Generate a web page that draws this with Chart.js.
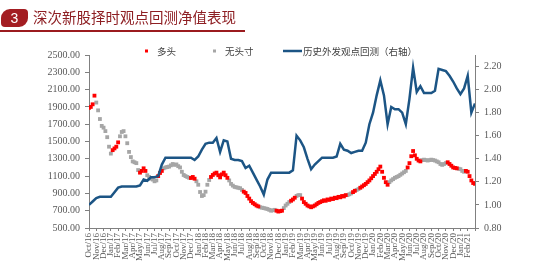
<!DOCTYPE html>
<html>
<head>
<meta charset="utf-8">
<script src="https://cdn.jsdelivr.net/npm/chart.js@4.4.1/dist/chart.umd.min.js"></script>
<style>
  html, body { margin: 0; padding: 0; background: #fff; }
  #wrap { position: relative; width: 550px; height: 262px; overflow: hidden; }
  #badge { position: absolute; left: 1px; top: 9px; width: 27px; height: 18px; background: #a31d22;
           border-radius: 9px 4px 9px 4px; color: #fff; font: 14px 'Liberation Sans', sans-serif;
           text-align: center; line-height: 18px; }
  #title { position: absolute; left: 33px; top: 7px; font: 14.5px 'Noto Sans CJK SC', sans-serif;
           color: #8e1f23; line-height: 20px; white-space: nowrap; }
  #rule { position: absolute; left: 0; top: 30px; width: 245px; height: 2px; background: #9b1b1f; }
  canvas { position: absolute; left: 0; top: 0; }
</style>
</head>
<body>
<div id="wrap">
  <canvas id="navChart" width="550" height="262"></canvas>
  <div id="badge">3</div>
  <div id="title">深次新股择时观点回测净值表现</div>
  <div id="rule"></div>
</div>
<script>
// month labels, Oct/16 .. Feb/21
const monthNames = ['Jan', 'Feb', 'Mar', 'Apr', 'May', 'Jun', 'Jul', 'Aug', 'Sep', 'Oct', 'Nov', 'Dec'];
const monthLabels = [];
for (let y = 16; y <= 21; y++) {
  for (let m = 0; m < 12; m++) {
    if (y === 16 && m < 9) continue;
    if (y === 21 && m > 1) break;
    monthLabels.push(monthNames[m] + '/' + y);
  }
}

const leftTicks = [500, 700, 900, 1100, 1300, 1500, 1700, 1900, 2100, 2300, 2500];
const rightTicks = [0.8, 1.0, 1.2, 1.4, 1.6, 1.8, 2.0, 2.2];

// index level, four readings per month (one row = two months)
const price = [
  1890, 1900, 1930, 2030, 1950, 1860, 1760, 1680,
  1660, 1620, 1550, 1440, 1360, 1400, 1420, 1440,
  1490, 1560, 1610, 1620, 1560, 1480, 1380, 1320,
  1270, 1260, 1250, 1170, 1140, 1160, 1190, 1160,
  1110, 1090, 1070, 1060, 1040, 1050, 1100, 1136,
  1160, 1190, 1200, 1205, 1210, 1225, 1240, 1230,
  1235, 1215, 1200, 1150, 1113, 1100, 1090, 1080,
  1078, 1090, 1070, 1040, 1000, 916, 870, 880,
  920, 1000, 1055, 1090, 1113, 1130, 1140, 1110,
  1085, 1120, 1140, 1110, 1080, 1050, 1010, 990,
  975, 970, 965, 960, 940, 920, 905, 870,
  840, 810, 790, 775, 760, 750, 740, 735,
  730, 725, 720, 710, 700, 705, 710, 700,
  690, 695, 700, 730, 760, 780, 800, 815,
  830, 850, 870, 880, 880, 840, 800, 780,
  760, 750, 740, 750, 760, 775, 790, 800,
  810, 820, 815, 830, 825, 840, 835, 850,
  845, 860, 855, 870, 865, 880, 880, 890,
  900, 915, 930, 940, 950, 965, 980, 995,
  1010, 1030, 1050, 1075, 1100, 1125, 1150, 1180,
  1210, 1150, 1080, 1030, 1000, 1030, 1050, 1065,
  1080, 1090, 1100, 1115, 1130, 1145, 1160, 1200,
  1250, 1330, 1390, 1340, 1300, 1280, 1270, 1285,
  1290, 1285, 1280, 1285, 1290, 1285, 1280, 1270,
  1260, 1240, 1230, 1240, 1250, 1260, 1240, 1220,
  1200, 1195, 1190, 1185, 1180, 1160, 1150, 1160,
  1150, 1100, 1050, 1020, 1010
];
// 1 = 多头, 0 = 无头寸
const position = [
  1, 1, 1, 1, 0, 0, 0, 0,
  0, 0, 0, 0, 0, 1, 1, 1,
  1, 0, 0, 0, 0, 0, 0, 0,
  0, 0, 0, 0, 1, 1, 1, 1,
  0, 0, 0, 0, 0, 0, 1, 1,
  1, 0, 0, 0, 0, 0, 0, 0,
  0, 0, 0, 0, 0, 0, 0, 0,
  1, 1, 1, 0, 0, 0, 0, 0,
  0, 0, 0, 1, 1, 1, 1, 1,
  1, 1, 1, 1, 1, 0, 0, 0,
  0, 0, 0, 0, 0, 1, 1, 1,
  1, 1, 1, 1, 1, 1, 0, 0,
  0, 0, 0, 0, 0, 0, 0, 1,
  1, 1, 1, 0, 0, 0, 0, 1,
  1, 1, 0, 0, 0, 1, 1, 1,
  1, 1, 1, 1, 1, 1, 1, 1,
  1, 1, 1, 1, 1, 1, 1, 1,
  1, 1, 1, 1, 1, 1, 0, 0,
  0, 1, 1, 0, 0, 1, 1, 1,
  1, 1, 1, 1, 1, 1, 1, 1,
  1, 1, 1, 1, 1, 0, 0, 0,
  0, 0, 0, 0, 0, 0, 0, 1,
  1, 1, 1, 1, 1, 1, 1, 0,
  0, 0, 0, 0, 0, 0, 0, 0,
  0, 0, 0, 0, 0, 1, 1, 1,
  1, 1, 1, 0, 0, 0, 0, 1,
  1, 1, 1, 1, 1
];
// backtest NAV (right axis), two readings per month
const backtestNav = [
  1.00, 1.03, 1.06, 1.07, 1.07, 1.07, 1.07, 1.11, 1.15, 1.16,
  1.16, 1.16, 1.16, 1.16, 1.17, 1.22, 1.21, 1.24, 1.24, 1.25,
  1.35, 1.41, 1.41, 1.41, 1.41, 1.41, 1.41, 1.41, 1.41, 1.39,
  1.42, 1.48, 1.53, 1.54, 1.54, 1.58, 1.46, 1.56, 1.55, 1.40,
  1.39, 1.39, 1.38, 1.32, 1.34, 1.28, 1.22, 1.16, 1.09, 1.22,
  1.28, 1.28, 1.28, 1.28, 1.28, 1.28, 1.30, 1.60, 1.56, 1.50,
  1.40, 1.31, 1.35, 1.38, 1.41, 1.41, 1.41, 1.41, 1.42, 1.53,
  1.48, 1.47, 1.45, 1.46, 1.47, 1.47, 1.54, 1.70, 1.80, 1.95,
  2.08, 1.95, 1.70, 1.85, 1.83, 1.83, 1.80, 1.70, 1.92, 2.19,
  1.98, 2.03, 1.97, 1.97, 1.97, 1.99, 2.18, 2.17, 2.16, 2.12,
  2.07, 2.01, 1.96, 2.01, 2.12, 1.80, 1.88
];

const RED = '#ff0000';
const GREY = '#a6a6a6';
const BLUE = '#1c5585';

// x is months counted from Oct/16
const longPts = price.map((v, i) => ({ x: i / 4, y: position[i] === 1 ? v : null }));
const flatPts = price.map((v, i) => ({ x: i / 4, y: position[i] === 0 ? v : null }));
const navPts = backtestNav.map((v, i) => ({ x: i / 2, y: v }));

Chart.defaults.font.family = "'Liberation Serif', 'Noto Sans CJK SC', serif";
Chart.defaults.color = '#595959';

// legend drawn at fixed spots above the plot
const fixedLegend = {
  id: 'fixedLegend',
  afterDraw(chart) {
    const ctx = chart.ctx;
    const ds = chart.data.datasets;
    const cy = 51;
    ctx.save();
    ctx.font = "9.5px 'Noto Sans CJK SC', sans-serif";
    ctx.textBaseline = 'middle';
    ctx.fillStyle = RED;
    ctx.fillRect(145, cy - 1.5, 3, 3);
    ctx.fillStyle = GREY;
    ctx.fillRect(213, cy - 1.5, 3, 3);
    ctx.strokeStyle = BLUE;
    ctx.lineWidth = 2.5;
    ctx.beginPath();
    ctx.moveTo(283, cy);
    ctx.lineTo(302, cy);
    ctx.stroke();
    ctx.fillStyle = '#404040';
    ctx.fillText(ds[0].label, 157, cy);
    ctx.fillText(ds[1].label, 225, cy);
    ctx.fillText(ds[2].label, 303, cy);
    ctx.restore();
  }
};

const axisColor = '#808080';

new Chart(document.getElementById('navChart').getContext('2d'), {
  type: 'line',
  data: {
    datasets: [
      {
        label: '多头', data: longPts, showLine: false, yAxisID: 'y', order: 1,
        pointStyle: 'rect', pointRadius: 2.7, pointBorderWidth: 0,
        pointBackgroundColor: RED, borderColor: RED, backgroundColor: RED
      },
      {
        label: '无头寸', data: flatPts, showLine: false, yAxisID: 'y', order: 2,
        pointStyle: 'rect', pointRadius: 2.7, pointBorderWidth: 0,
        pointBackgroundColor: GREY, borderColor: GREY, backgroundColor: GREY
      },
      {
        label: '历史外发观点回测（右轴）', data: navPts, yAxisID: 'y1', order: 0,
        borderColor: BLUE, borderWidth: 2.5, pointRadius: 0, tension: 0
      }
    ]
  },
  options: {
    responsive: false,
    animation: false,
    events: [],
    layout: { padding: { top: 55, left: 0, right: 0, bottom: 0 } },
    plugins: { legend: { display: false }, tooltip: { enabled: false } },
    scales: {
      x: {
        type: 'linear', min: 0, max: 53,
        afterFit: (s) => { s.height = 34; },
        afterBuildTicks: (s) => { s.ticks = monthLabels.map((_, i) => ({ value: i })).concat([{ value: 53 }]); },
        ticks: {
          autoSkip: false, maxRotation: 90, minRotation: 90, padding: 2,
          font: { size: 9 },
          callback: (v) => monthLabels[v] || ''
        },
        grid: { drawOnChartArea: false, tickLength: 3, color: axisColor },
        border: { color: axisColor }
      },
      y: {
        position: 'left', min: 500, max: 2500,
        afterFit: (s) => { s.width = 89; },
        afterBuildTicks: (s) => { s.ticks = leftTicks.map((v) => ({ value: v })); },
        ticks: { padding: 5, font: { size: 10 }, callback: (v) => v.toFixed(2) },
        grid: { drawOnChartArea: false, tickLength: 4, color: axisColor },
        border: { color: axisColor }
      },
      y1: {
        position: 'right', min: 0.8, max: 2.3,
        afterFit: (s) => { s.width = 75; },
        afterBuildTicks: (s) => { s.ticks = rightTicks.map((v) => ({ value: v })); },
        ticks: { padding: 5, font: { size: 10 }, callback: (v) => v.toFixed(2) },
        grid: { drawOnChartArea: false, tickLength: 4, color: axisColor },
        border: { color: axisColor }
      }
    }
  },
  plugins: [fixedLegend]
});
</script>
</body>
</html>
